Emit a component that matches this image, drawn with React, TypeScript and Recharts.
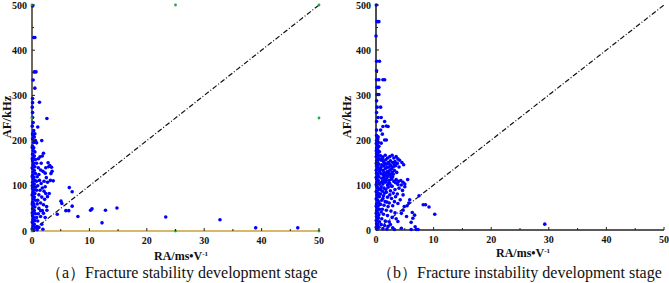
import React from "react";
import { ScatterChart, Scatter, XAxis, YAxis, ReferenceLine } from "recharts";

// ---------- DATA ----------
const xTicks = [0, 5, 10, 15, 20, 25, 30, 35, 40, 45, 50];
const yTicks = [0, 50, 100, 150, 200, 250, 300, 350, 400, 450, 500];
const xLabel = "RA/ms\u2022V";
const yLabel = "AF/kHz";
const captionA = "\uFF08a\uFF09Fracture stability development stage";
const captionB = "\uFF08b\uFF09Fracture instability development stage";
const diagonal = [{ x: 0, y: 0 }, { x: 50, y: 500 }];

// stage (a): [RA, AF]
const aUpper: [number, number][] = [
  [0.1, 498], [0.3, 428], [0.5, 428], [0.4, 352], [0.7, 352], [0.2, 334], [0.5, 316], [0.1, 293],
  [0.1, 284], [0.05, 274], [0.1, 262], [0.1, 251], [0.2, 240], [0.05, 232], [0.3, 222], [0.1, 215],
  [0.5, 215], [0.2, 212], [0.4, 208], [0.6, 200], [0.1, 204], [0.3, 196], [1.3, 285], [2.6, 249],
  [1.0, 230], [1.7, 200], [0.8, 195],
];
const aColumn: [number, number][] = [
  [0.1, 188], [0.3, 184], [0.2, 178], [0.5, 175], [0.1, 170], [0.4, 166], [0.2, 162], [0.6, 158],
  [0.1, 155], [0.3, 150], [0.2, 146], [0.5, 142], [0.1, 138], [0.4, 134], [0.2, 130], [0.6, 127],
  [0.1, 123], [0.3, 119], [0.2, 115], [0.5, 112], [0.1, 108], [0.4, 104], [0.2, 100], [0.6, 97],
  [0.1, 94], [0.3, 90], [0.2, 86], [0.5, 83], [0.1, 79], [0.4, 75], [0.2, 71], [0.6, 68],
  [0.1, 64], [0.3, 60], [0.2, 56], [0.5, 53], [0.1, 49], [0.4, 45], [0.2, 41], [0.6, 38],
  [0.1, 34], [0.3, 30], [0.2, 26], [0.5, 23], [0.1, 19], [0.4, 15], [0.2, 11], [0.6, 8],
  [0.1, 4], [0.3, 1], [0.05, 185], [0.05, 160], [0.05, 140], [0.05, 120], [0.05, 100], [0.05, 80],
  [0.05, 60], [0.05, 40], [0.05, 20], [0.05, 5], [0.8, 150], [0.8, 110], [0.8, 90], [0.9, 60],
  [0.8, 30], [0.9, 10],
];
const aCluster: [number, number][] = [
  [2.0, 172], [1.4, 164], [1.8, 166], [1.1, 160], [2.8, 151], [3.1, 145], [3.4, 141], [2.4, 140],
  [3.5, 132], [2.9, 142], [2.3, 128], [1.5, 135], [1.9, 132], [1.2, 125], [3.7, 111], [3.2, 112],
  [2.7, 108], [2.1, 110], [1.6, 105], [1.3, 112], [1.0, 100], [1.8, 95], [2.3, 98], [1.4, 90],
  [2.1, 88], [3.0, 83], [2.4, 83], [2.7, 76], [1.2, 80], [1.7, 75], [2.2, 70], [1.0, 68],
  [1.5, 62], [2.0, 58], [2.55, 54], [1.2, 50], [1.8, 45], [2.6, 46], [1.1, 38], [2.0, 39],
  [1.5, 32], [2.3, 30], [1.0, 22], [1.7, 15], [1.2, 8], [1.9, 4], [0.9, 3], [1.5, 45],
  [0.9, 120], [1.1, 140], [2.5, 118], [3.3, 127], [1.6, 150], [4.4, 37],
];
const aOutliers: [number, number][] = [
  [6.5, 96], [7.0, 87], [5.05, 66], [5.2, 61], [6.4, 45], [5.9, 45], [7.0, 55], [8.0, 32],
  [10.2, 46], [10.45, 49], [12.8, 46], [14.8, 51], [12.2, 18], [23.3, 31], [32.75, 25], [38.97, 7],
  [46.3, 7],
];
const aHandles: [number, number][] = [
  [0, 0], [25, 0], [50, 0], [50, 250], [50, 500], [25, 500], [0, 500], [0, 250],
];

// stage (b): [RA, AF]
const bUpper: [number, number][] = [
  [0.05, 500], [0.2, 463], [0.5, 463], [0.0, 431], [0.1, 375], [0.6, 375], [0.1, 354], [0.1, 334],
  [0.5, 334], [1.2, 334], [1.5, 334], [0.2, 317], [0.5, 317], [0.2, 301], [0.5, 301], [0.1, 287],
  [0.2, 273], [0.8, 273], [0.1, 261], [0.35, 250], [0.9, 250], [0.1, 241], [1.5, 241], [1.8, 231],
  [1.2, 230], [2.1, 230], [0.1, 222], [0.8, 222], [0.35, 207], [1.1, 213], [1.5, 200], [1.8, 200],
  [0.9, 193],
];
const bColumn: [number, number][] = [
  [0.1, 210], [0.3, 205], [0.1, 199], [0.4, 195], [0.2, 190], [0.5, 186], [0.1, 182], [0.3, 178],
  [0.6, 174], [0.1, 170], [0.4, 166], [0.2, 162], [0.6, 158], [0.1, 154], [0.3, 150], [0.5, 146],
  [0.1, 142], [0.4, 138], [0.2, 134], [0.6, 130], [0.1, 126], [0.3, 122], [0.5, 118], [0.1, 114],
  [0.4, 110], [0.2, 106], [0.6, 102], [0.1, 98], [0.3, 94], [0.5, 90], [0.1, 86], [0.4, 82],
  [0.2, 78], [0.6, 74], [0.1, 70], [0.3, 66], [0.5, 62], [0.1, 58], [0.4, 54], [0.2, 50],
  [0.6, 46], [0.1, 42], [0.3, 38], [0.5, 34], [0.1, 30], [0.4, 26], [0.2, 22], [0.6, 18],
  [0.1, 14], [0.3, 10], [0.5, 6], [0.1, 2], [0.3, 201], [0.05, 192], [0.35, 184], [0.05, 176],
  [0.3, 170], [0.05, 163], [0.35, 156], [0.05, 148], [0.25, 141], [0.05, 133], [0.35, 125], [0.05, 117],
  [0.25, 109], [0.05, 101], [0.35, 93], [0.05, 85], [0.25, 77], [0.05, 69], [0.35, 61], [0.05, 53],
  [0.25, 45], [0.05, 37], [0.35, 29], [0.05, 21], [0.25, 13], [0.05, 6],
];
const bCluster: [number, number][] = [
  [0.8, 165], [1.2, 162], [1.6, 166], [2.0, 160], [2.4, 163], [2.8, 166], [3.1, 160], [3.5, 163],
  [3.8, 158], [0.9, 155], [1.3, 152], [1.7, 156], [2.1, 150], [2.5, 154], [2.9, 150], [3.3, 152],
  [3.7, 148], [4.1, 155], [4.5, 150], [4.8, 145], [1.0, 145], [1.4, 142], [1.8, 146], [2.2, 140],
  [2.6, 143], [3.0, 140], [3.4, 143], [4.0, 140], [0.8, 135], [1.2, 132], [1.6, 136], [2.0, 130],
  [2.4, 133], [2.8, 128], [3.2, 132], [3.6, 128], [0.9, 125], [1.3, 122], [1.7, 126], [2.1, 120],
  [2.5, 123], [2.9, 118], [1.0, 115], [1.5, 112], [1.9, 116], [2.3, 110], [2.7, 113], [3.1, 108],
  [3.5, 112], [3.9, 108], [4.3, 110], [4.7, 106], [5.0, 102], [5.5, 112], [0.8, 105], [1.2, 102],
  [1.6, 106], [2.0, 100], [2.4, 103], [3.4, 105], [3.8, 101], [4.4, 100], [0.9, 96], [1.4, 93],
  [2.1, 95], [2.8, 97], [3.3, 90], [4.0, 93], [4.6, 88], [5.0, 96], [1.1, 86], [1.8, 84],
  [2.5, 87], [3.0, 82], [3.7, 80], [4.7, 78], [1.3, 76], [2.0, 73], [2.7, 70], [3.4, 74],
  [4.2, 67], [5.85, 67], [1.0, 66], [1.6, 63], [2.3, 60], [3.2, 63], [3.8, 59], [0.8, 57],
  [1.4, 55], [2.1, 52], [2.9, 54], [4.9, 52], [5.4, 54], [5.7, 60], [1.9, 62], [1.1, 46],
  [1.8, 44], [2.6, 42], [3.3, 38], [4.4, 37], [4.7, 44], [1.3, 35], [2.0, 32], [2.8, 28],
  [5.3, 30], [3.5, 25], [1.0, 25], [1.6, 20], [2.3, 18], [3.8, 19], [0.9, 12], [1.5, 10],
  [2.1, 8], [2.9, 5], [4.4, 4], [1.2, 3], [1.9, 2], [3.2, 1], [2.5, 12],
  [1.1, 158], [1.5, 148], [1.9, 139], [2.3, 147], [2.7, 136], [3.2, 146], [0.9, 140], [1.4, 128],
  [1.8, 121], [2.2, 126], [2.6, 117], [3.0, 124], [1.1, 108], [1.4, 118], [1.8, 110], [2.2, 104],
  [2.6, 98], [0.8, 90], [1.2, 70], [1.7, 90], [2.4, 78], [0.8, 80], [1.5, 82], [0.9, 40],
];
const bOutliers: [number, number][] = [
  [7.47, 76], [8.2, 56], [8.6, 56], [9.2, 51], [10.2, 35], [6.3, 39], [6.7, 33], [6.4, 26],
  [6.1, 17], [6.1, 1], [7.0, 1], [7.3, 1], [6.8, 7], [29.3, 13],
];

const toPts = (arr: [number, number][]) => arr.map(([x, y]) => ({ x, y }));

const FONT = "'Liberation Serif', 'Times New Roman', serif";

const XTick = (props: any) => {
  const { x, y, payload } = props;
  const v = payload.value;
  const major = v % 10 === 0;
  return (
    <g>
      <line x1={x} x2={x} y1={y} y2={y - (major ? 3 : 2)} stroke="#222" strokeWidth={1} />
      {major && (
        <text x={x} y={y + 13} textAnchor="middle" fontFamily={FONT} fontWeight="bold" fontSize={10} fill="#111">
          {v}
        </text>
      )}
    </g>
  );
};

const YTick = (props: any) => {
  const { x, y, payload } = props;
  const v = payload.value;
  const major = v % 100 === 0;
  return (
    <g>
      <line x1={x} x2={x + (major ? 3 : 2)} y1={y} y2={y} stroke="#222" strokeWidth={1} />
      {major && (
        <text x={x - 5} y={y + 3.5} textAnchor="end" fontFamily={FONT} fontWeight="bold" fontSize={10} fill="#111">
          {v}
        </text>
      )}
    </g>
  );
};

const Dot = (color: string, r: number) => (props: any) => {
  const { cx, cy } = props;
  return <circle cx={cx} cy={cy} r={r} fill={color} />;
};

type PanelProps = {
  left: number;
  width: number;
  yAxisWidth: number;
  margin: { top: number; right: number; bottom: number; left: number };
  series: [number, number][][];
  handles?: [number, number][];
  colors: { top: string; right: string; left: string; bottom: string };
};

const Panel = ({ left, width, yAxisWidth, margin, series, handles, colors }: PanelProps) => (
  <div style={{ position: "absolute", left, top: 0 }}>
    <ScatterChart width={width} height={283} margin={margin}>
      <XAxis
        xAxisId="top"
        orientation="top"
        type="number"
        dataKey="x"
        domain={[0, 50]}
        height={0}
        tick={false}
        tickLine={false}
        axisLine={{ stroke: colors.top, strokeWidth: 1.6 }}
      />
      <YAxis
        yAxisId="right"
        orientation="right"
        type="number"
        dataKey="y"
        domain={[0, 500]}
        width={0}
        tick={false}
        tickLine={false}
        axisLine={{ stroke: colors.right, strokeWidth: 1.6 }}
      />
      <XAxis
        type="number"
        dataKey="x"
        domain={[0, 50]}
        ticks={xTicks}
        interval={0}
        height={20}
        tickSize={0}
        tickMargin={0}
        tickLine={false}
        tick={<XTick />}
        axisLine={{ stroke: colors.bottom, strokeWidth: 1.6 }}
      />
      <YAxis
        type="number"
        dataKey="y"
        domain={[0, 500]}
        ticks={yTicks}
        interval={0}
        width={yAxisWidth}
        tickSize={0}
        tickMargin={0}
        tickLine={false}
        tick={<YTick />}
        axisLine={{ stroke: colors.left, strokeWidth: 1.6 }}
      />
      {series.map((s, i) => (
        <Scatter key={i} data={toPts(s)} shape={Dot("#0000FF", 1.8)} isAnimationActive={false} />
      ))}
      {handles && <Scatter data={toPts(handles)} shape={Dot("#22aa44", 1.4)} isAnimationActive={false} />}
      <ReferenceLine
        segment={diagonal}
        stroke="#111"
        strokeWidth={1.2}
        strokeDasharray="5 2 1 2"
        ifOverflow="visible"
      />
    </ScatterChart>
  </div>
);

const textBase: React.CSSProperties = {
  position: "absolute",
  fontFamily: FONT,
  color: "#111",
  whiteSpace: "nowrap",
  lineHeight: 1,
};

const AxisTexts = ({ yCenterX, xCenter, xTop }: { yCenterX: number; xCenter: number; xTop: number }) => (
  <>
    <div
      style={{
        ...textBase,
        fontWeight: "bold",
        fontSize: 12.5,
        left: yCenterX,
        top: 117,
        transform: "translate(-50%, -50%) rotate(-90deg)",
      }}
    >
      {yLabel}
    </div>
    <div
      style={{
        ...textBase,
        fontWeight: "bold",
        fontSize: 12,
        left: xCenter,
        top: xTop,
        transform: "translateX(-50%)",
      }}
    >
      {xLabel}
      <sup style={{ fontSize: 7, verticalAlign: "4px", lineHeight: 1 }}>-1</sup>
    </div>
  </>
);

export default function App() {
  return (
    <div style={{ position: "absolute", left: 0, top: 0, width: 669, height: 283, background: "#fff", overflow: "hidden" }}>
      <Panel
        left={0}
        width={335}
        yAxisWidth={32}
        margin={{ top: 5, right: 16, bottom: 32, left: 0 }}
        series={[aUpper, aColumn, aCluster, aOutliers]}
        handles={aHandles}
        colors={{ top: "#8b8374", right: "#6b5b3b", left: "#4d4030", bottom: "#c9a23a" }}
      />
      <Panel
        left={335}
        width={334}
        yAxisWidth={41}
        margin={{ top: 5, right: 5, bottom: 33, left: 0 }}
        series={[bUpper, bColumn, bCluster, bOutliers]}
        colors={{ top: "#8c8c8c", right: "#8c8c8c", left: "#222", bottom: "#222" }}
      />
      <AxisTexts yCenterX={7} xCenter={181} xTop={250} />
      <AxisTexts yCenterX={347} xCenter={523} xTop={247} />
      <div style={{ ...textBase, fontSize: 16, left: 46, top: 265 }}>{captionA}</div>
      <div style={{ ...textBase, fontSize: 16, left: 377, top: 265 }}>{captionB}</div>
    </div>
  );
}
